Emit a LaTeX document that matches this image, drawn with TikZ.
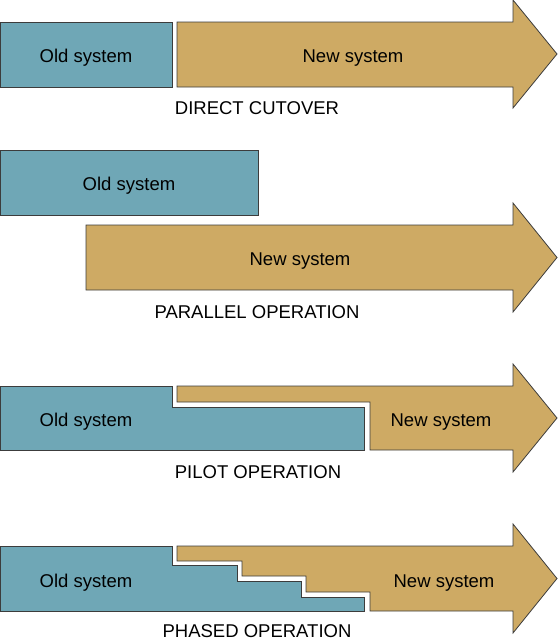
\documentclass[tikz,border=0pt]{standalone}
\usepackage{fontspec}
\setmainfont{Liberation Sans}
\usepackage{tikz}
\usepackage{color}
\definecolor{oldblue}{RGB}{111,167,182}
\definecolor{newtan}{RGB}{206,170,100}
\definecolor{edgegray}{RGB}{60,60,60}

\begin{document}
\begin{tikzpicture}[x=1pt,y=-1pt,
	oldpart/.style={fill=oldblue, draw=edgegray, line width=0.8pt},
	newpart/.style={fill=newtan, draw=edgegray, line width=0.8pt},
	txt/.style={font=\fontsize{18.5}{22}\selectfont, inner sep=0pt, anchor=base}]
	  \useasboundingbox (0,0) rectangle (557,640);

	  % Direct cutover
	  \filldraw[oldpart] (0,22) rectangle (172,87);
	  \filldraw[newpart] (177,22) -- (513,22) -- (513,0) -- (557,54) -- (513,108) -- (513,87) -- (177,87) -- cycle;

	  % Parallel operation
	  \filldraw[oldpart] (0,150) rectangle (258,215);
	  \filldraw[newpart] (86,225) -- (513,225) -- (513,203) -- (557,257.5) -- (513,312) -- (513,290) -- (86,290) -- cycle;

	  % Pilot operation
	  \filldraw[oldpart] (0,386) -- (172,386) -- (172,407) -- (364,407) -- (364,450) -- (0,450) -- cycle;
	  \filldraw[newpart] (177,386) -- (513,386) -- (513,364) -- (557,418) -- (513,472) -- (513,450) -- (370,450) -- (370,402) -- (177,402) -- cycle;

	  % Phased operation
	  \filldraw[oldpart] (0,546) -- (172,546) -- (172,565) -- (237,565) -- (237,581) -- (301,581) -- (301,597) -- (364,597) -- (364,611) -- (0,611) -- cycle;
	  \filldraw[newpart] (177,546) -- (513,546) -- (513,524) -- (557,578.5) -- (513,633) -- (513,611) -- (370,611) -- (370,592) -- (306,592) -- (306,576) -- (242,576) -- (242,561) -- (177,561) -- cycle;

	  % Nodes
	  \node[txt] (OldA) at (86,62) {Old system};
	  \node[txt] (NewA) at (353,62) {New system};
	  \node[txt] (Direct) at (257,114) {DIRECT CUTOVER};
	  \node[txt] (OldB) at (129,190) {Old system};
	  \node[txt] (NewB) at (300,265) {New system};
	  \node[txt] (Parallel) at (257,318) {PARALLEL OPERATION};
	  \node[txt] (OldC) at (86,426) {Old system};
	  \node[txt] (NewC) at (441,426) {New system};
	  \node[txt] (Pilot) at (258,478) {PILOT OPERATION};
	  \node[txt] (OldD) at (86,587) {Old system};
	  \node[txt] (NewD) at (444,587) {New system};
	  \node[txt] (Phased) at (257,637) {PHASED OPERATION};
	\end{tikzpicture}
\end{document}
